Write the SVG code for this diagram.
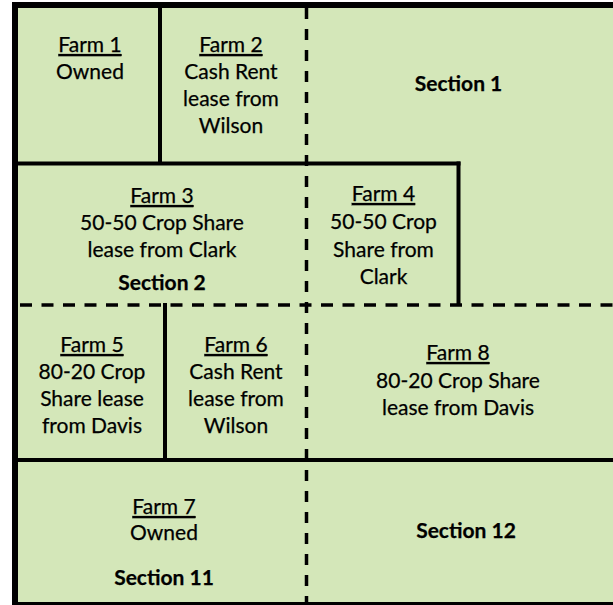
<svg xmlns="http://www.w3.org/2000/svg" width="613" height="605" viewBox="0 0 613 605">
<style>
.t{font-family:Lato,"Open Sans","Liberation Sans",sans-serif;font-size:21px;fill:#000;stroke:#000;stroke-width:0.25;text-anchor:middle}
.b{font-weight:bold}
.u{text-decoration:underline}
.solid{stroke:#000;stroke-width:4;fill:none}
.dash{stroke:#000;stroke-width:3.5;fill:none;stroke-dasharray:11 10}
</style>
<rect x="0" y="0" width="613" height="605" fill="#fff"/>
<rect x="12" y="2" width="601" height="603" fill="#d4e7b9"/>
<g id="connectors">
<line class="dash" x1="306.5" y1="8" x2="306.5" y2="603"/>
<line class="dash" x1="20" y1="305" x2="613" y2="305" style="stroke-dasharray:12 9.5"/>
<line class="solid" x1="160" y1="8" x2="160" y2="164"/>
<line class="solid" x1="18" y1="163.5" x2="460.5" y2="163.5"/>
<line class="solid" x1="458.5" y1="161.5" x2="458.5" y2="306"/>
<line class="solid" x1="165" y1="303" x2="165" y2="461"/>
<line class="solid" x1="18" y1="460" x2="613" y2="460"/>
<line stroke="#000" stroke-width="6" x1="15" y1="2" x2="15" y2="605"/>
<line stroke="#000" stroke-width="6" x1="12" y1="5" x2="613" y2="5"/>
<line stroke="#000" stroke-width="3" x1="12" y1="603.5" x2="613" y2="603.5"/>
</g>
<g id="farm1"><text class="t u" x="90" y="52">Farm 1</text><text class="t" x="90" y="79">Owned</text></g>
<g id="farm2"><text class="t u" x="231" y="52">Farm 2</text><text class="t" x="231" y="79">Cash Rent</text><text class="t" x="231" y="106">lease from</text><text class="t" x="231" y="133">Wilson</text></g>
<g id="section1"><text class="t b" x="458.5" y="91">Section 1</text></g>
<g id="farm3"><text class="t u" x="162" y="203">Farm 3</text><text class="t" x="162" y="230">50-50 Crop Share</text><text class="t" x="162" y="257">lease from Clark</text><text class="t b" x="162" y="290">Section 2</text></g>
<g id="farm4"><text class="t u" x="383.5" y="201">Farm 4</text><text class="t" x="383.5" y="229">50-50 Crop</text><text class="t" x="383.5" y="257">Share from</text><text class="t" x="383.5" y="284">Clark</text></g>
<g id="farm5"><text class="t u" x="92" y="352">Farm 5</text><text class="t" x="92" y="379">80-20 Crop</text><text class="t" x="92" y="406">Share lease</text><text class="t" x="92" y="433">from Davis</text></g>
<g id="farm6"><text class="t u" x="236" y="352">Farm 6</text><text class="t" x="236" y="379">Cash Rent</text><text class="t" x="236" y="406">lease from</text><text class="t" x="236" y="433">Wilson</text></g>
<g id="farm8"><text class="t u" x="458" y="360">Farm 8</text><text class="t" x="458" y="388">80-20 Crop Share</text><text class="t" x="458" y="415">lease from Davis</text></g>
<g id="farm7"><text class="t u" x="164" y="514">Farm 7</text><text class="t" x="164" y="540">Owned</text><text class="t b" x="164" y="585">Section 11</text></g>
<g id="section12"><text class="t b" x="466" y="538">Section 12</text></g>
</svg>
